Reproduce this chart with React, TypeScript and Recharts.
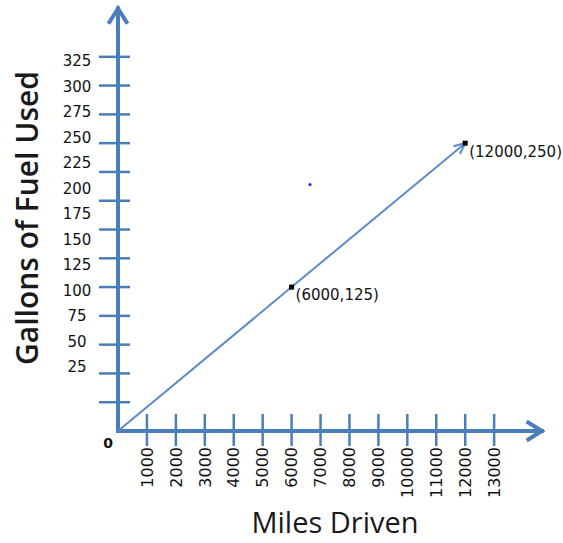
import React from 'react';
import { ComposedChart, XAxis, YAxis, Line, Scatter, ReferenceLine } from 'recharts';

// ---- data ----
const xTicks = [0, 1000, 2000, 3000, 4000, 5000, 6000, 7000, 8000, 9000, 10000, 11000, 12000, 13000];
const yTicks = [25, 50, 75, 100, 125, 150, 175, 200, 225, 250, 275, 300, 325];
const yLabelTicks = [25, 50, 75, 100, 125, 150, 175, 200, 225, 250, 275, 300, 325];
const lineX = [0, 6000, 12000];
const lineY = [0, 125, 250];
const pointLabels = ['', '(6000,125)', '(12000,250)'];
const strayX = [6636];
const strayY = [214];
const xAxisEnd = 14650;
const yAxisEnd = 367;

const lineData = lineX.map((x, i) => ({ x, y: lineY[i], label: pointLabels[i] }));
const strayData = strayX.map((x, i) => ({ x, y: strayY[i] }));

const AXIS_BLUE = '#4A7EBB';
const LINE_BLUE = '#5B8CC8';
const TICK_FONT = 'DejaVu Sans';
const TITLE_FONT = 'Open Sans';

const ArrowAxis = (props: any) => {
  const { x1, y1, x2, y2 } = props;
  const ang = Math.atan2(y2 - y1, x2 - x1);
  const len = 18;
  const spread = 0.56;
  const ax = x2 - len * Math.cos(ang - spread);
  const ay = y2 - len * Math.sin(ang - spread);
  const bx = x2 - len * Math.cos(ang + spread);
  const by = y2 - len * Math.sin(ang + spread);
  return (
    <g>
      <line x1={x1} y1={y1} x2={x2} y2={y2} stroke={AXIS_BLUE} strokeWidth={4} strokeLinecap="square" />
      <polyline points={`${ax},${ay} ${x2},${y2} ${bx},${by}`} fill="none" stroke={AXIS_BLUE} strokeWidth={4} strokeLinejoin="miter" />
    </g>
  );
};

const YTickMark = (props: any) => {
  const { x, y } = props;
  return <line x1={x - 18} x2={x + 13} y1={y} y2={y} stroke={AXIS_BLUE} strokeWidth={2.5} />;
};

const YTickLabel = (props: any) => {
  const { x, y, payload } = props;
  return (
    <text x={x - 41} y={y} dy="0.36em" textAnchor="middle" fontFamily={TICK_FONT} fontSize={15} fill="#111">
      {payload.value}
    </text>
  );
};

const XTick = (props: any) => {
  const { x, y, payload } = props;
  if (payload.value === 0) {
    return (
      <text x={x - 10} y={y + 12} dy="0.36em" textAnchor="middle" fontFamily={TICK_FONT} fontSize={14} fontWeight="bold" fill="#111">
        0
      </text>
    );
  }
  return (
    <g>
      <line x1={x} x2={x} y1={y - 17} y2={y + 15} stroke={AXIS_BLUE} strokeWidth={2.5} />
      <text
        x={x}
        y={y + 16}
        dy="0.36em"
        textAnchor="end"
        transform={`rotate(-90 ${x} ${y + 16})`}
        fontFamily={TICK_FONT}
        fontSize={16}
        fill="#111"
      >
        {payload.value}
      </text>
    </g>
  );
};

const PointDot = (props: any) => {
  const { cx, cy, index } = props;
  if (index === 0) return <g key={`d${index}`} />;
  return <rect key={`d${index}`} x={cx - 2.5} y={cy - 2.5} width={5} height={5} fill="#000" />;
};

const PointLabel = (props: any) => {
  const { x, y, index } = props;
  const txt = pointLabels[index];
  if (!txt) return null;
  return (
    <text x={x + 4} y={y + 8} dy="0.36em" fontFamily={TICK_FONT} fontSize={15} fill="#111">
      {txt}
    </text>
  );
};

const StrayDot = (props: any) => {
  const { cx, cy } = props;
  return <circle cx={cx} cy={cy} r={1.6} fill="#2233EE" />;
};

const YTitle = (props: any) => {
  const { viewBox } = props;
  const cx = viewBox.x + viewBox.width - 90;
  const cy = viewBox.y + viewBox.height / 2;
  return (
    <text x={cx} y={cy} dy="0.36em" textAnchor="middle" transform={`rotate(-90 ${cx} ${cy})`} fontFamily={TITLE_FONT} fontSize={30} fontWeight={600} fill="#1a1a1a">
      Gallons of Fuel Used
    </text>
  );
};

const XTitle = (props: any) => {
  const { viewBox } = props;
  const cx = viewBox.x + viewBox.width / 2;
  return (
    <text x={cx} y={viewBox.y + 102} textAnchor="middle" fontFamily={TITLE_FONT} fontSize={29} fontWeight={500} fill="#1a1a1a">
      Miles Driven
    </text>
  );
};

export default function App() {
  return (
    <div style={{ position: 'absolute', left: 0, top: 0, width: 563, height: 543, background: '#fff' }}>
      <ComposedChart width={563} height={543} data={lineData} margin={{ top: 5, right: 11, bottom: 82, left: 116 }}>
        <defs>
          <marker id="dataArrow" markerUnits="userSpaceOnUse" markerWidth={16} markerHeight={16} refX={12} refY={6} orient="auto">
            <path d="M1,1 L12,6 L1,11" fill="none" stroke={LINE_BLUE} strokeWidth={2} />
          </marker>
        </defs>
        <XAxis
          dataKey="x"
          type="number"
          domain={[0, 15000]}
          ticks={xTicks}
          interval={0}
          height={30}
          axisLine={false}
          tickLine={false}
          tickSize={0}
          tickMargin={0}
          tick={XTick}
          label={XTitle}
        />
        <YAxis
          yAxisId="main"
          type="number"
          domain={[0, 370]}
          ticks={yTicks}
          interval={0}
          width={1}
          axisLine={false}
          tickLine={false}
          tickSize={0}
          tickMargin={0}
          tick={YTickMark}
          label={YTitle}
        />
        <YAxis
          yAxisId="labels"
          type="number"
          domain={[-37.7, 379.9]}
          ticks={yLabelTicks}
          interval={0}
          width={1}
          axisLine={false}
          tickLine={false}
          tickSize={0}
          tickMargin={0}
          tick={YTickLabel}
        />
        <ReferenceLine yAxisId="main" segment={[{ x: 0, y: 0 }, { x: 0, y: yAxisEnd }]} shape={ArrowAxis} />
        <ReferenceLine yAxisId="main" segment={[{ x: 0, y: 0 }, { x: xAxisEnd, y: 0 }]} shape={ArrowAxis} />
        <Line
          yAxisId="labels"
          dataKey="y"
          type="linear"
          stroke="none"
          dot={false}
          activeDot={false}
          legendType="none"
          isAnimationActive={false}
        />
        <Line
          yAxisId="main"
          dataKey="y"
          type="linear"
          stroke={LINE_BLUE}
          strokeWidth={2}
          markerEnd="url(#dataArrow)"
          dot={PointDot}
          activeDot={false}
          label={PointLabel}
          isAnimationActive={false}
        />
        <Scatter yAxisId="main" data={strayData} dataKey="y" shape={StrayDot} isAnimationActive={false} />
      </ComposedChart>
    </div>
  );
}
